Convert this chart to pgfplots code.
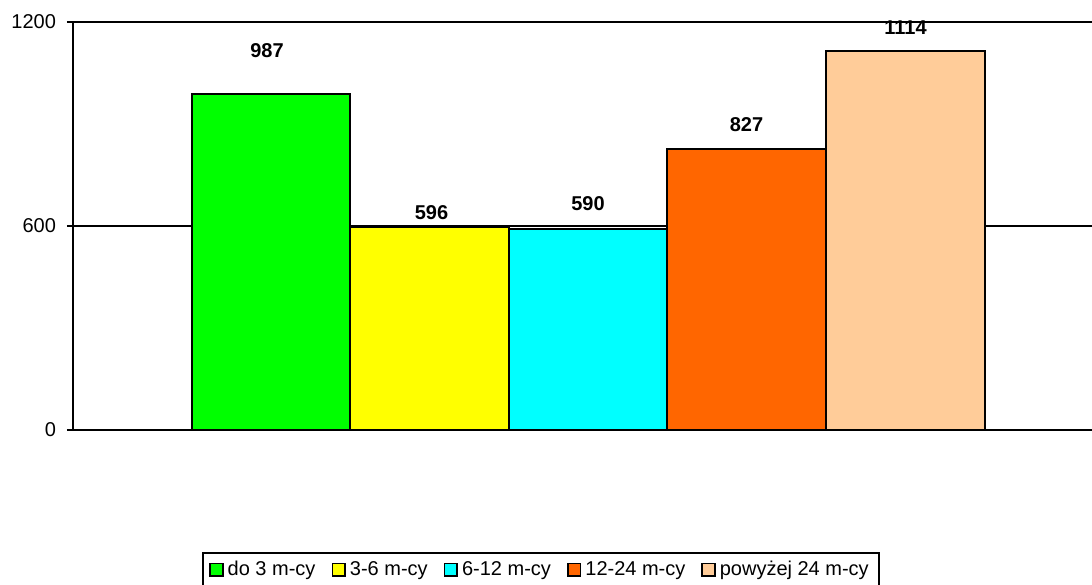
\documentclass[border=0pt]{standalone}
\usepackage{fontspec}
\setmainfont{Liberation Sans}
\usepackage{pgfplots}
\pgfplotsset{compat=1.18}

\definecolor{cgreen}{HTML}{00FF00}
\definecolor{cyellow}{HTML}{FFFF00}
\definecolor{ccyan}{HTML}{00FFFF}
\definecolor{corange}{HTML}{FF6600}
\definecolor{cpeach}{HTML}{FFCC99}

\begin{document}
\begin{tikzpicture}
\begin{axis}[
  scale only axis, width=509.5pt, height=204pt,
  xmin=0, xmax=1019, ymin=0, ymax=1200,
  axis x line=bottom, axis y line=left,
  axis line style={-, line width=1pt},
  xtick=\empty, ytick={0,600,1200},
  ymajorgrids, grid style={black, line width=1pt},
  tick align=outside, major tick length=3pt,
  tick style={black, line width=1pt},
  yticklabel style={font=\fontsize{10}{12}\selectfont, xshift=-2pt},
  /pgf/number format/assume math mode=true,
  /pgf/number format/1000 sep={},
  clip=false,
  legend columns=5,
  legend style={at={(0.4593,-0.299)}, anchor=north, draw=black, line width=1pt,
    font=\fontsize{10}{12}\selectfont,
    /tikz/every even column/.append style={column sep=6pt}},
  legend image code/.code={\draw[#1,draw=black,line width=0.8pt] (0pt,-3.2pt) rectangle (6.4pt,3.2pt);},
  nodes near coords,
  every node near coord/.append style={font=\bfseries\fontsize{10}{12}\selectfont, anchor=center},
]
\addplot[ybar, bar width=158.5, bar shift=0pt, fill=cgreen, draw=black, line width=1pt,
  every node near coord/.append style={yshift=22pt, xshift=-2pt}] coordinates {(198,987)};
\addplot[ybar, bar width=158.5, bar shift=0pt, fill=cyellow, draw=black, line width=1pt,
  every node near coord/.append style={yshift=7.5pt, xshift=1pt}] coordinates {(356.5,596)};
\addplot[ybar, bar width=158.5, bar shift=0pt, fill=ccyan, draw=black, line width=1pt,
  every node near coord/.append style={yshift=13pt}] coordinates {(515,590)};
\addplot[ybar, bar width=158.5, bar shift=0pt, fill=corange, draw=black, line width=1pt,
  every node near coord/.append style={yshift=12pt}] coordinates {(673.5,827)};
\addplot[ybar, bar width=158.5, bar shift=0pt, fill=cpeach, draw=black, line width=1pt,
  every node near coord/.append style={yshift=12pt}] coordinates {(832.5,1114)};
\legend{do 3 m-cy, 3-6 m-cy, 6-12 m-cy, 12-24 m-cy, powyżej 24 m-cy}
\coordinate (ll) at (rel axis cs:0,0);
\coordinate (ur) at (rel axis cs:1,1);
\end{axis}
\pgfresetboundingbox
\path[use as bounding box] ([xshift=-36.5pt,yshift=-77pt]ll) rectangle ([yshift=11pt]ur);
\end{tikzpicture}
\end{document}
